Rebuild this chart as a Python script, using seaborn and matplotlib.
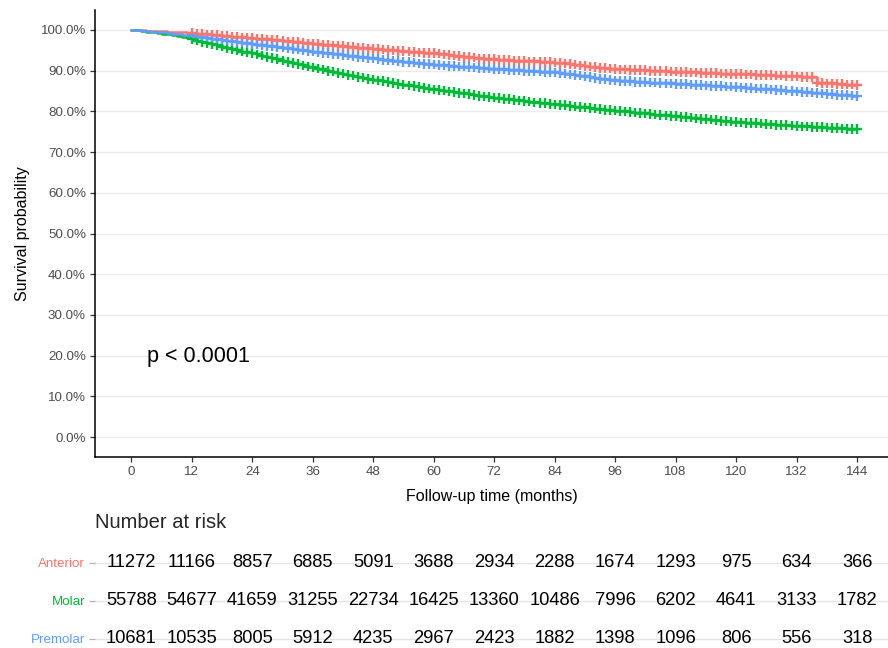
import numpy as np
import pandas as pd
import matplotlib
matplotlib.use('Agg')
import matplotlib.pyplot as plt
import seaborn as sns

sns.set_theme(style="white")
plt.rcParams['font.family'] = ['Liberation Sans', 'DejaVu Sans']

months = list(range(0, 145))
anterior = [
    100.0, 99.9, 99.9, 99.8, 99.8, 99.7, 99.7, 99.6, 99.5, 99.5, 99.4, 99.3,
    99.2, 99.1, 99.0, 98.9, 98.8, 98.7, 98.6, 98.5, 98.4, 98.3, 98.2, 98.1,
    98.0, 97.9, 97.8, 97.7, 97.6, 97.5, 97.4, 97.2, 97.1, 97.0, 96.8, 96.7,
    96.6, 96.5, 96.4, 96.3, 96.2, 96.1, 96.0, 95.9, 95.8, 95.7, 95.6, 95.5,
    95.4, 95.3, 95.2, 95.1, 95.0, 94.9, 94.8, 94.7, 94.6, 94.5, 94.4, 94.4,
    94.3, 94.2, 94.0, 93.9, 93.7, 93.6, 93.4, 93.3, 93.2, 93.0, 92.9, 92.9,
    92.8, 92.7, 92.7, 92.6, 92.5, 92.5, 92.4, 92.3, 92.3, 92.2, 92.1, 92.1,
    92.0, 91.9, 91.8, 91.6, 91.5, 91.3, 91.2, 91.0, 90.9, 90.7, 90.6, 90.5,
    90.4, 90.3, 90.3, 90.2, 90.2, 90.1, 90.1, 90.0, 90.0, 89.9, 89.9, 89.8,
    89.8, 89.7, 89.7, 89.6, 89.6, 89.5, 89.5, 89.4, 89.4, 89.3, 89.3, 89.2,
    89.2, 89.2, 89.1, 89.1, 89.0, 89.0, 88.9, 88.9, 88.8, 88.8, 88.7, 88.7,
    88.6, 88.5, 88.5, 88.4, 87.1, 87.0, 86.9, 86.9, 86.8, 86.7, 86.6, 86.6,
    86.5]
molar = [
    100.0, 99.9, 99.8, 99.6, 99.5, 99.3, 99.1, 98.9, 98.7, 98.5, 98.2, 98.0,
    97.7, 97.4, 97.1, 96.8, 96.5, 96.2, 95.9, 95.6, 95.3, 95.0, 94.7, 94.5,
    94.3, 94.0, 93.7, 93.4, 93.1, 92.8, 92.5, 92.2, 91.9, 91.6, 91.3, 91.0,
    90.8, 90.5, 90.3, 90.0, 89.8, 89.5, 89.3, 89.0, 88.8, 88.5, 88.3, 88.0,
    87.8, 87.6, 87.4, 87.2, 87.0, 86.8, 86.6, 86.4, 86.2, 86.0, 85.8, 85.6,
    85.4, 85.2, 85.1, 84.9, 84.7, 84.5, 84.4, 84.2, 84.0, 83.8, 83.7, 83.5,
    83.4, 83.3, 83.1, 83.0, 82.8, 82.7, 82.5, 82.4, 82.2, 82.1, 82.0, 81.8,
    81.7, 81.6, 81.5, 81.3, 81.2, 81.1, 81.0, 80.8, 80.7, 80.6, 80.4, 80.3,
    80.2, 80.1, 80.0, 79.8, 79.7, 79.6, 79.5, 79.4, 79.2, 79.1, 79.0, 78.9,
    78.8, 78.7, 78.6, 78.5, 78.3, 78.2, 78.1, 78.0, 77.9, 77.7, 77.6, 77.5,
    77.4, 77.3, 77.2, 77.1, 77.1, 77.0, 76.9, 76.8, 76.7, 76.6, 76.6, 76.5,
    76.4, 76.3, 76.3, 76.2, 76.1, 76.1, 76.0, 75.9, 75.9, 75.8, 75.7, 75.7,
    75.6]
premolar = [
    100.0, 99.9, 99.8, 99.7, 99.6, 99.5, 99.4, 99.3, 99.1, 99.0, 98.8, 98.7,
    98.5, 98.3, 98.2, 98.0, 97.9, 97.7, 97.6, 97.4, 97.2, 97.1, 96.9, 96.8,
    96.6, 96.4, 96.3, 96.1, 96.0, 95.8, 95.7, 95.5, 95.3, 95.2, 95.0, 94.9,
    94.7, 94.6, 94.4, 94.3, 94.1, 94.0, 93.8, 93.7, 93.6, 93.4, 93.3, 93.1,
    93.0, 92.9, 92.7, 92.6, 92.5, 92.4, 92.2, 92.1, 92.0, 91.8, 91.7, 91.6,
    91.5, 91.4, 91.3, 91.2, 91.1, 91.0, 91.0, 90.9, 90.8, 90.7, 90.6, 90.5,
    90.4, 90.3, 90.3, 90.2, 90.1, 90.1, 90.0, 89.9, 89.9, 89.8, 89.7, 89.7,
    89.6, 89.4, 89.3, 89.1, 88.9, 88.8, 88.6, 88.4, 88.2, 88.0, 87.9, 87.7,
    87.6, 87.5, 87.5, 87.4, 87.3, 87.3, 87.2, 87.1, 87.1, 87.0, 86.9, 86.9,
    86.8, 86.7, 86.7, 86.6, 86.5, 86.5, 86.4, 86.3, 86.3, 86.2, 86.1, 86.1,
    86.0, 85.9, 85.8, 85.7, 85.6, 85.6, 85.5, 85.4, 85.3, 85.2, 85.1, 85.0,
    84.9, 84.8, 84.7, 84.6, 84.5, 84.4, 84.3, 84.2, 84.1, 84.0, 84.0, 83.9,
    83.8]
first_censor = 12  # censor marks start at month 12

groups = ["Anterior", "Molar", "Premolar"]
colors = ["#F8766D", "#00BA38", "#619CFF"]

risk_times = [0, 12, 24, 36, 48, 60, 72, 84, 96, 108, 120, 132, 144]
risk_anterior = [11272, 11166, 8857, 6885, 5091, 3688, 2934, 2288, 1674, 1293, 975, 634, 366]
risk_molar = [55788, 54677, 41659, 31255, 22734, 16425, 13360, 10486, 7996, 6202, 4641, 3133, 1782]
risk_premolar = [10681, 10535, 8005, 5912, 4235, 2967, 2423, 1882, 1398, 1096, 806, 556, 318]

surv = {"Anterior": anterior, "Molar": molar, "Premolar": premolar}
risk = {"Anterior": risk_anterior, "Molar": risk_molar, "Premolar": risk_premolar}

df = pd.concat([pd.DataFrame({"time": months, "surv": surv[g], "group": g}) for g in groups],
               ignore_index=True)
cens = df[df["time"] >= first_censor]
pal = dict(zip(groups, colors))

fig = plt.figure(figsize=(8.88, 6.48), dpi=100)
ax = fig.add_axes([0.107, 1 - 457.35 / 648, 0.893, 447.7 / 648])

sns.lineplot(data=df, x="time", y="surv", hue="group", hue_order=groups, palette=pal,
             drawstyle="steps-post", estimator=None, linewidth=1.8, legend=False, ax=ax)
sns.scatterplot(data=cens, x="time", y="surv", hue="group", hue_order=groups, palette=pal,
                marker="+", s=48, linewidth=1.7, legend=False, ax=ax)

ax.set_xlim(-7.2, 150.14)
ax.set_ylim(-5, 105)
ax.set_xticks(risk_times)
ax.set_yticks(range(0, 101, 10))
ax.set_yticklabels([f"{v:.1f}%" for v in range(0, 101, 10)])
ax.yaxis.grid(True, color="#EBEBEB", linewidth=1.0)
ax.xaxis.grid(False)
ax.set_axisbelow(True)
for s in ["top", "right"]:
    ax.spines[s].set_visible(False)
for s in ["left", "bottom"]:
    ax.spines[s].set_color("black")
    ax.spines[s].set_linewidth(1.1)
ax.tick_params(axis="both", which="major", length=3.5, width=0.9, color="#333333",
               labelcolor="#4D4D4D", labelsize=9.6, left=True, bottom=True, pad=3)
ax.set_xlabel("Follow-up time (months)", fontsize=11.5, color="black", labelpad=8)
ax.set_ylabel("Survival probability", fontsize=11.5, color="black", labelpad=8)
ax.text(3.2, 19.7, "p < 0.0001", fontsize=15.5, va="center", ha="left", color="black")

# risk table
fig.text(95 / 888, 1 - 522 / 648, "Number at risk", fontsize=14.5, va="center", ha="left")
rax = fig.add_axes([0.107, 0.0, 0.893, 104 / 648])
rax.set_xlim(-7.2, 150.14)
rax.set_ylim(3.237, 0.5)
for i, g in enumerate(groups):
    for t, n in zip(risk_times, risk[g]):
        rax.text(t, i + 1, str(n), ha="center", va="center", fontsize=13.2, color="black")
rax.set_yticks([1, 2, 3])
rax.set_yticklabels(groups)
for lab, c in zip(rax.get_yticklabels(), colors):
    lab.set_color(c)
rax.set_xticks([])
rax.yaxis.grid(True, color="#E5E5E5", linewidth=1.0)
rax.set_axisbelow(True)
for s in rax.spines.values():
    s.set_visible(False)
rax.tick_params(axis="y", length=4, width=0.9, color="#B3B3B3", labelsize=9.6, left=True, pad=3)
rax.set_xlabel("")
rax.set_ylabel("")

fig.savefig("out.png", dpi=100)
